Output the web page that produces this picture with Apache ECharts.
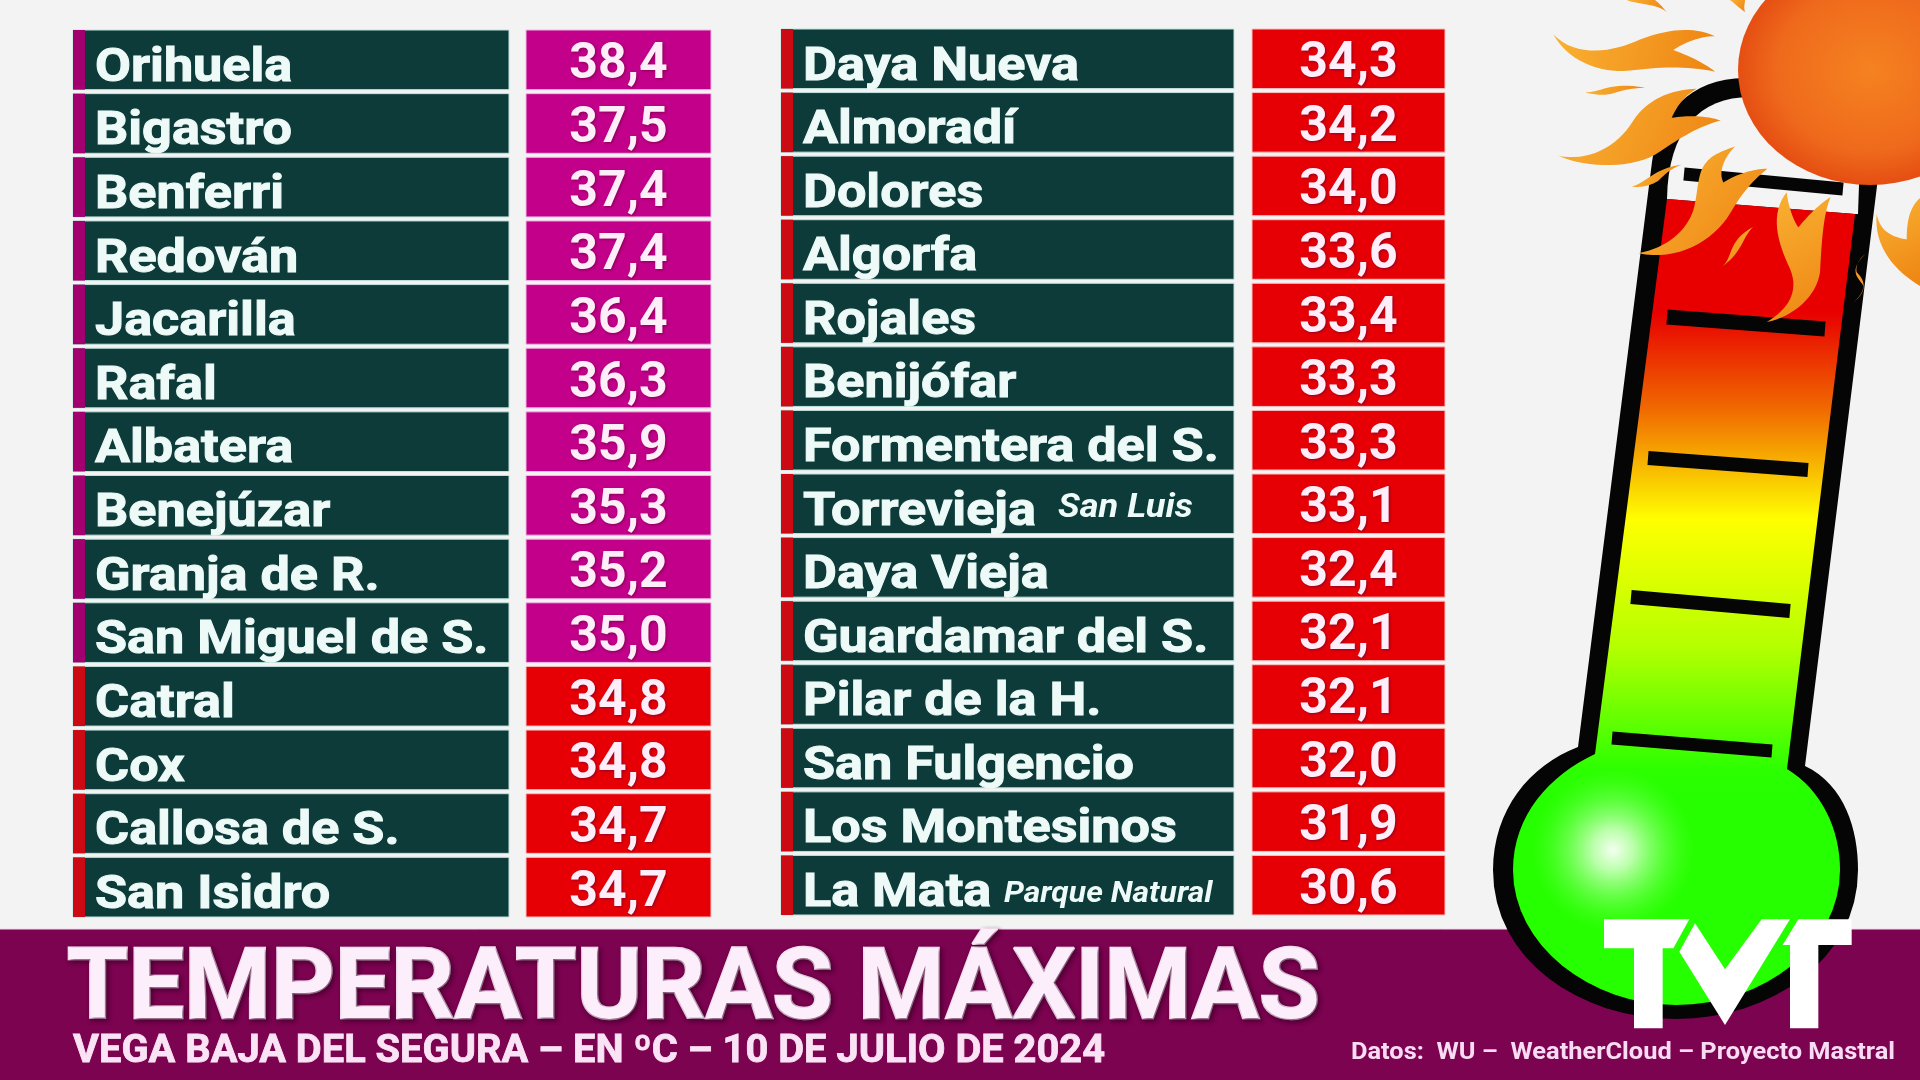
<!DOCTYPE html>
<html>
<head>
<meta charset="utf-8">
<style>
html,body{margin:0;padding:0;background:#f3f3f3}
#main{width:1920px;height:1080px}
</style>
<script src="https://cdn.jsdelivr.net/npm/echarts@6/dist/echarts.min.js"></script>
</head>
<body>
<div id="main"></div>
<script>
// datos de la tabla
const leftNames = ["Orihuela","Bigastro","Benferri","Redován","Jacarilla","Rafal","Albatera","Benejúzar","Granja de R.","San Miguel de S.","Catral","Cox","Callosa de S.","San Isidro"];
const leftValues = [38.4,37.5,37.4,37.4,36.4,36.3,35.9,35.3,35.2,35.0,34.8,34.8,34.7,34.7];
const rightNames = ["Daya Nueva","Almoradí","Dolores","Algorfa","Rojales","Benijófar","Formentera del S.","Torrevieja","Daya Vieja","Guardamar del S.","Pilar de la H.","San Fulgencio","Los Montesinos","La Mata"];
const rightNotes = ["","","","","","","","San Luis","","","","","","Parque Natural"];
const rightValues = [34.3,34.2,34.0,33.6,33.4,33.3,33.3,33.1,32.4,32.1,32.1,32.0,31.9,30.6];
const hotLimit = 35;

const titleText = "TEMPERATURAS MÁXIMAS";
const subtitleText = "VEGA BAJA DEL SEGURA – EN ºC – 10 DE JULIO DE 2024";
const sourceText = "Datos:  WU –  WeatherCloud – Proyecto Mastral";

const fontName = "Roboto";
const measureCtx = document.createElement("canvas").getContext("2d");

// escala horizontal para que el texto ocupe el ancho pedido
function fitX(text, font, width) {
    measureCtx.font = font;
    return width / measureCtx.measureText(text).width;
}

function formatValue(v) {
    return v.toFixed(1).replace(".", ",");
}

// convierte un trazo M/L/C/Z en puntos para un polygon de graphic
function pathPoints(d) {
    let pts = [];
    let cur = [0, 0];
    d.replace(/([MLCZ])([^MLCZ]*)/g, (m, cmd, args) => {
        let n = args.trim().split(/\s+/).map(Number);
        if (cmd === "M" || cmd === "L") {
            cur = [n[0], n[1]];
            pts.push(cur);
        } else if (cmd === "C") {
            for (let k = 0; k + 5 < n.length; k += 6) {
                let p0 = cur;
                for (let s = 1; s <= 16; s++) {
                    let t = s / 16, u = 1 - t;
                    pts.push([
                        u*u*u*p0[0] + 3*u*u*t*n[k] + 3*u*t*t*n[k+2] + t*t*t*n[k+4],
                        u*u*u*p0[1] + 3*u*u*t*n[k+1] + 3*u*t*t*n[k+3] + t*t*t*n[k+5]
                    ]);
                }
                cur = [n[k+4], n[k+5]];
            }
        }
        return m;
    });
    return pts;
}

// dibuja una fila: acento, nombre y valor
function rowRenderer(names, notes, nameW, valueX, valueW, noteStyle) {
    return function (params, api) {
        let i = params.dataIndex;
        let value = api.value(0);
        let cy = api.coord([0, api.value(1)])[1];
        let h = api.size([0, 1])[1] - 4;
        let top = cy - h / 2;
        let x0 = params.coordSys.x;
        let hot = value >= hotLimit;
        let children = [
            {type: "rect", shape: {x: x0, y: top, width: nameW, height: h}, style: {fill: "#0c3b39", stroke: "#bfe2de", lineWidth: 1}},
            {type: "rect", shape: {x: x0, y: top, width: 12, height: h}, style: {fill: hot ? "#a3006f" : "#cc0a14"}},
            {type: "rect", shape: {x: x0 + valueX, y: top, width: valueW, height: h}, style: {fill: hot ? "#c2008a" : "#e60005", stroke: hot ? "#f2b5e4" : "#f7c0c0", lineWidth: 1}},
            {type: "text", x: x0 + 22, y: cy + 9, scaleX: 1.11, style: {text: names[i], fill: "#eefaf8", fontFamily: fontName, fontWeight: "bold", fontSize: 47, align: "left", verticalAlign: "middle", stroke: "#eefaf8", lineWidth: 1}},
            {type: "text", x: x0 + valueX + valueW / 2, y: cy + 6, scaleX: 1.0, style: {text: formatValue(value), fill: "#fdeef9", fontFamily: fontName, fontWeight: "bold", fontSize: 50, align: "center", verticalAlign: "middle", textShadowColor: "rgba(90,0,40,0.6)", textShadowBlur: 3, textShadowOffsetX: 1, textShadowOffsetY: 1}}
        ];
        if (notes[i]) {
            let ns = noteStyle[notes[i]];
            children.push({type: "text", x: x0 + ns.x, y: cy + ns.dy, scaleX: 1.1, style: {text: notes[i], fill: "#eefaf8", fontFamily: fontName, fontWeight: "bold", fontStyle: "italic", fontSize: ns.size, align: "left", verticalAlign: "middle"}});
        }
        return {type: "group", children: children};
    };
}

function tableSeries(index, names, values, notes, nameW, valueX, valueW, noteStyle) {
    return {
        type: "custom",
        xAxisIndex: index,
        yAxisIndex: index,
        silent: true,
        encode: {x: 0, y: 1},
        data: values.map((v, i) => [v, i]),
        renderItem: rowRenderer(names, notes, nameW, valueX, valueW, noteStyle)
    };
}

// colores del termómetro
const flameFill = {type: "linear", x: 0, y: 0, x2: 1, y2: 1, colorStops: [{offset: 0, color: "#f9b233"}, {offset: 1, color: "#ee8412"}]};
const liquidFill = {type: "linear", global: true, x: 0, y: 190, x2: 0, y2: 800, colorStops: [
    {offset: 0, color: "#e80000"}, {offset: 0.2, color: "#e80000"}, {offset: 0.36, color: "#f06a00"},
    {offset: 0.54, color: "#ffff00"}, {offset: 0.75, color: "#b4ff00"}, {offset: 0.95, color: "#2cff00"}, {offset: 1, color: "#26ff00"}]};

const flamePaths = [
    "M220 100C290 170 400 150 480 115C560 85 640 75 705 105C660 105 610 125 580 145C620 160 670 180 705 208C620 190 530 195 450 205C350 215 260 170 220 100Z",
    "M315 268C360 270 390 235 495 255C450 255 420 265 395 272C370 278 340 275 315 268Z",
    "M235 452C320 470 410 430 460 350C500 290 570 260 650 258C610 280 590 310 575 342C620 335 680 335 722 350C660 365 600 400 540 440C470 490 320 490 235 452Z",
    "M455 542C500 530 520 490 605 478C570 490 550 510 535 525C510 540 480 545 455 542Z",
    "M475 735C560 720 620 670 640 610C655 560 650 500 680 470C700 445 740 435 765 425C730 460 715 500 730 530C770 505 820 490 862 490C810 530 780 570 750 620C700 700 590 760 475 735Z",
    "M725 775C760 750 740 700 820 658C785 690 790 730 725 775Z",
    "M860 935C920 900 960 850 930 780C890 700 870 620 920 558C925 600 940 640 955 660C980 630 1020 590 1052 572C1030 620 1025 700 1020 790C1010 860 940 920 860 935Z",
    "M1155 738C1100 790 1140 810 1150 830C1150 850 1130 870 1118 880C1170 840 1150 810 1130 790C1125 770 1140 750 1155 738Z",
    "M1190 620C1200 680 1250 690 1280 695C1280 640 1290 600 1320 575L1320 830C1250 790 1180 720 1190 620Z",
    "M440 0C480 15 530 10 560 35C540 10 530 5 525 0Z",
    "M750 0C770 15 780 25 795 35C790 20 795 10 795 0Z"
];
const scaleMarks = [[1684,174,1843,189,13],[1667,317,1825,329,15],[1648,458,1808,470,14],[1631,597,1790,611,14],[1612,738,1772,751,13]];
const logoPaths = [
    "M42 58L298 58L250 145L218 145L218 385L132 385L132 145L42 145Z",
    "M315 70L405 208L515 58L600 58L405 375L268 155Z",
    "M625 58L785 58L785 135L685 135L685 385L600 385L600 135L578 135Z"
];

const titleFont = "bold 98px " + fontName;
const subtitleFont = "bold 38px " + fontName;
const sourceFont = "bold 23px " + fontName;

let graphics = [
    // banda inferior
    {type: "rect", shape: {x: -3, y: 929, width: 1926, height: 154}, style: {fill: "#7b0350", stroke: "#f8d5ee", lineWidth: 1}},
    {type: "text", x: 67, y: 993, scaleX: fitX(titleText, titleFont, 1253), style: {text: titleText, fill: "#fdeefb", stroke: "#fdeefb", lineWidth: 2.5, font: titleFont, align: "left", verticalAlign: "middle", textShadowColor: "rgba(60,0,40,0.7)", textShadowBlur: 4, textShadowOffsetX: 2, textShadowOffsetY: 2}},
    {type: "text", x: 73, y: 1052, scaleX: fitX(subtitleText, subtitleFont, 1032), style: {text: subtitleText, fill: "#fbe3f6", stroke: "#fbe3f6", lineWidth: 0.8, font: subtitleFont, align: "left", verticalAlign: "middle"}},
    {type: "text", x: 1351, y: 1053, scaleX: fitX(sourceText, sourceFont, 544), style: {text: sourceText, fill: "#f9dcf3", font: sourceFont, align: "left", verticalAlign: "middle"}},
    // termómetro
    {type: "polygon", shape: {points: pathPoints("M1652 162C1658 115 1690 78 1745 78L1880 78L1877 186L1805 766C1845 785 1858 830 1858 870C1858 960 1770 1019 1676 1019C1580 1019 1493 960 1493 870C1493 810 1530 765 1578 747Z")}, style: {fill: "#050505"}},
    {type: "polygon", shape: {points: pathPoints("M1667 199C1668 130 1700 97 1750 97L1862 97L1858 214L1855 214Z")}, style: {fill: "#f4f4f4"}},
    {type: "polygon", shape: {points: pathPoints("M1667 199L1855 214L1787 769C1822 790 1840 830 1840 870C1840 945 1765 1005 1676 1005C1590 1005 1513 945 1513 870C1513 815 1550 775 1595 754Z")}, style: {fill: liquidFill}},
    {type: "circle", shape: {cx: 1613, cy: 850, r: 82}, style: {fill: {type: "radial", x: 0.5, y: 0.5, r: 0.5, colorStops: [{offset: 0, color: "rgba(255,255,255,0.95)"}, {offset: 0.25, color: "rgba(225,255,215,0.8)"}, {offset: 1, color: "rgba(100,255,60,0)"}]}}}
];
scaleMarks.forEach((m) => {
    graphics.push({type: "line", shape: {x1: m[0], y1: m[1], x2: m[2], y2: m[3]}, style: {stroke: "#050505", lineWidth: m[4]}});
});
// sol y llamas
graphics.push({type: "circle", x: 1870, y: 70, scaleX: 132 / 115, shape: {cx: 0, cy: 0, r: 115}, style: {fill: {type: "radial", x: 0.5, y: 0.5, r: 0.5, colorStops: [{offset: 0, color: "#f58220"}, {offset: 0.7, color: "#ef6a1c"}, {offset: 1, color: "#e54e12"}]}}});
flamePaths.forEach((p) => {
    graphics.push({type: "polygon", x: 1480, y: 0, scaleX: 1 / 3, scaleY: 1 / 2.903, shape: {points: pathPoints(p)}, style: {fill: flameFill}});
});
logoPaths.forEach((p) => {
    graphics.push({type: "polygon", x: 1590, y: 900, scaleX: 1 / 3, scaleY: 1 / 3, shape: {points: pathPoints(p)}, style: {fill: "#ffffff"}});
});

const option = {
    backgroundColor: "#f3f3f3",
    animation: false,
    tooltip: {show: false},
    grid: [
        {left: 73, top: 28, width: 638, height: 891},
        {left: 781, top: 27, width: 664, height: 890}
    ],
    xAxis: [
        {gridIndex: 0, type: "value", min: 0, max: 40, show: false},
        {gridIndex: 1, type: "value", min: 0, max: 40, show: false}
    ],
    yAxis: [
        {gridIndex: 0, type: "category", inverse: true, data: leftNames, show: false},
        {gridIndex: 1, type: "category", inverse: true, data: rightNames, show: false}
    ],
    graphic: {elements: graphics},
    series: [
        tableSeries(0, leftNames, leftValues, leftNames.map(() => ""), 436, 453, 185, {}),
        tableSeries(1, rightNames, rightValues, rightNotes, 453, 471, 193, {"San Luis": {x: 277, dy: 5, size: 33}, "Parque Natural": {x: 223, dy: 10, size: 29}})
    ]
};

let chart = echarts.init(document.getElementById("main"));
chart.setOption(option);
</script>
</body>
</html>
